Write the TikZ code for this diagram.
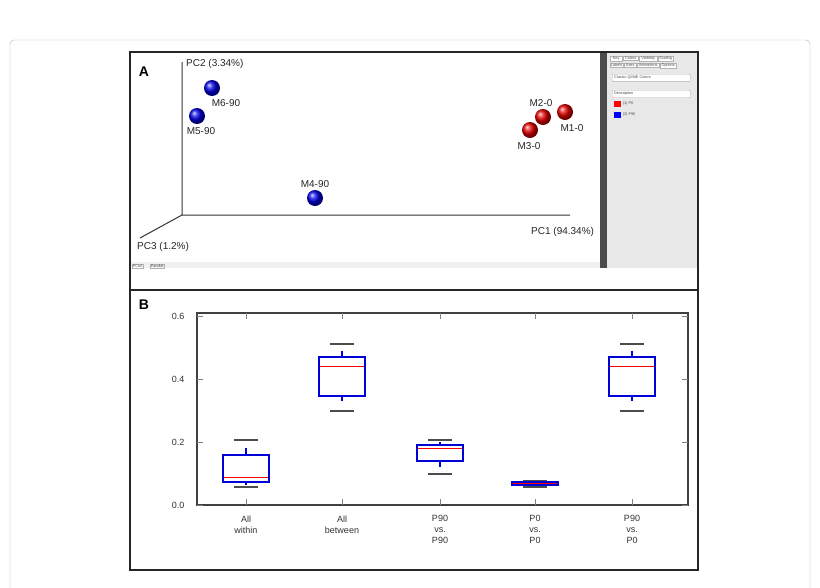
\documentclass[tikz,border=0pt]{standalone}
\usepackage{fontspec}
\setmainfont{Liberation Sans}
\begin{document}
\begin{tikzpicture}[x=1pt,y=-1pt,
  lbl/.style={font=\fontsize{10}{11}\selectfont,inner sep=1pt,text=black!85},
  tick/.style={font=\fontsize{9}{10}\selectfont,text=black!80},
  tiny/.style={font=\fontsize{3.8}{4.2}\selectfont,inner sep=0.6pt,text=black!70},
  sph/.style={circle,minimum size=16pt,inner sep=0pt},
  wcap/.style={draw=black!70,line width=2pt},
  bx/.style={draw=blue!85!black,line width=2pt},
  med/.style={draw=red,line width=1.3pt}]
\useasboundingbox (0,0) rectangle (820,587);
\fill[white] (0,0) rectangle (820,587);
\draw[black!30,rounded corners=4pt] (10,600) -- (10,40) -- (810,40) -- (810,600);
% figure frame
\fill[black!9] (600,52) rectangle (698,268);
\fill[black!70] (600,52) rectangle (607,268);
\fill[black!6] (130,262) rectangle (600,268);
\node[tiny,draw=black!30,fill=white,anchor=south west] (tabA) at (132,268) {PCoA};
\node[tiny,draw=black!30,fill=black!5,anchor=south west] (tabB) at (150,268) {Parallel};
\draw[black!85,line width=1.4pt] (130,52) rectangle (698,570);
\draw[black!85,line width=1.4pt] (130,290) -- (698,290);
\node[font=\bfseries\fontsize{14}{15}\selectfont] (A) at (144,72) {A};
\node[font=\bfseries\fontsize{14}{15}\selectfont] (B) at (144,305) {B};
% side panel
\foreach \t/\x/\w in {Key/610/12,Colors/623/15,Visibility/639/18,Scaling/658/15}
  \node[tiny,draw=black!30,fill=white,anchor=north west,minimum width=\w pt] at (\x,56) {\t};
\foreach \t/\x/\w in {Labels/610/13,Axes/624/12,Animations/637/22,Options/660/16}
  \node[tiny,draw=black!30,fill=white,anchor=north west,minimum width=\w pt] at (\x,63) {\t};
\node[tiny,draw=black!30,fill=white,rounded corners=1pt,anchor=north west,text width=74pt,inner sep=2pt] at (612,74) {Classic QIIME Colors};
\node[tiny,draw=black!30,fill=white,rounded corners=1pt,anchor=north west,text width=74pt,inner sep=2pt] at (612,90) {Description};
\fill[red] (614,101) rectangle (621,107); \node[tiny,anchor=west] at (622,104) {(1) P0};
\fill[blue] (614,112) rectangle (621,118); \node[tiny,anchor=west] at (622,115) {(2) P90};
% axes A
\coordinate (o) at (182,215);
\coordinate (y2) at (182,62);
\coordinate (x1) at (570,215);
\coordinate (z3) at (140,238);
\draw[black!80,line width=1pt] (o) -- (y2) (o) -- (x1) (o) -- (z3);
\node[lbl,anchor=west] at (185,64) {PC2 (3.34\%)};
\node[lbl,anchor=west] at (530,232) {PC1 (94.34\%)};
\node[lbl,anchor=west] at (136,247) {PC3 (1.2\%)};
% spheres
\foreach \n/\x/\y in {s6/212/88,s5/197/116,s4/315/198}
  \node[sph,ball color=blue!90!black] (\n) at (\x,\y) {};
\foreach \n/\x/\y in {s1/565/112,s2/543/117,s3/530/130}
  \node[sph,ball color=red!90!black] (\n) at (\x,\y) {};
\node[lbl] at (226,103) {M6-90};
\node[lbl] at (201,131) {M5-90};
\node[lbl] at (315,184) {M4-90};
\node[lbl] at (541,103) {M2-0};
\node[lbl] at (572,128) {M1-0};
\node[lbl] at (529,146) {M3-0};
% plot B
\def\yv#1{505-315*#1}
\draw[black!75,line width=1.6pt] (197,313) rectangle (688,505);
\foreach \v/\t in {0/0.0,0.2/0.2,0.4/0.4,0.6/0.6}{
  \draw[black!50] (197,{\yv{\v}}) -- (203,{\yv{\v}}) (688,{\yv{\v}}) -- (682,{\yv{\v}});
  \node[tick,anchor=east] at (188,{\yv{\v}}) {\t};}
\foreach \c/\lab in {246/{All\\within},342/{All\\between},440/{P90\\vs.\\P90},535/{P0\\vs.\\P0},632/{P90\\vs.\\P0}}{
  \draw[black!50] (\c,313) -- (\c,319) (\c,505) -- (\c,499);
  \node[tick,align=center,anchor=north,font=\fontsize{9}{11}\selectfont] at (\c,512) {\lab};}
\foreach \c/\ct/\wt/\qt/\md/\qb/\wb/\cb in {
  246/0.205/0.18/0.16/0.087/0.074/0.063/0.058,
  342/0.51/0.49/0.47/0.44/0.345/0.33/0.30,
  440/0.205/0.2/0.19/0.18/0.14/0.12/0.10,
  535/0.075/0.073/0.072/0.068/0.063/0.06/0.058,
  632/0.51/0.49/0.47/0.44/0.345/0.33/0.30}{
  \draw[wcap] (\c-12,{\yv{\ct}}) -- (\c+12,{\yv{\ct}});
  \draw[wcap] (\c-12,{\yv{\cb}}) -- (\c+12,{\yv{\cb}});
  \draw[bx] (\c,{\yv{\wt}}) -- (\c,{\yv{\qt}}) (\c,{\yv{\qb}}) -- (\c,{\yv{\wb}});
  \draw[bx] (\c-23,{\yv{\qt}}) rectangle (\c+23,{\yv{\qb}});
  \draw[med] (\c-22,{\yv{\md}}) -- (\c+22,{\yv{\md}});}
\end{tikzpicture}
\end{document}
